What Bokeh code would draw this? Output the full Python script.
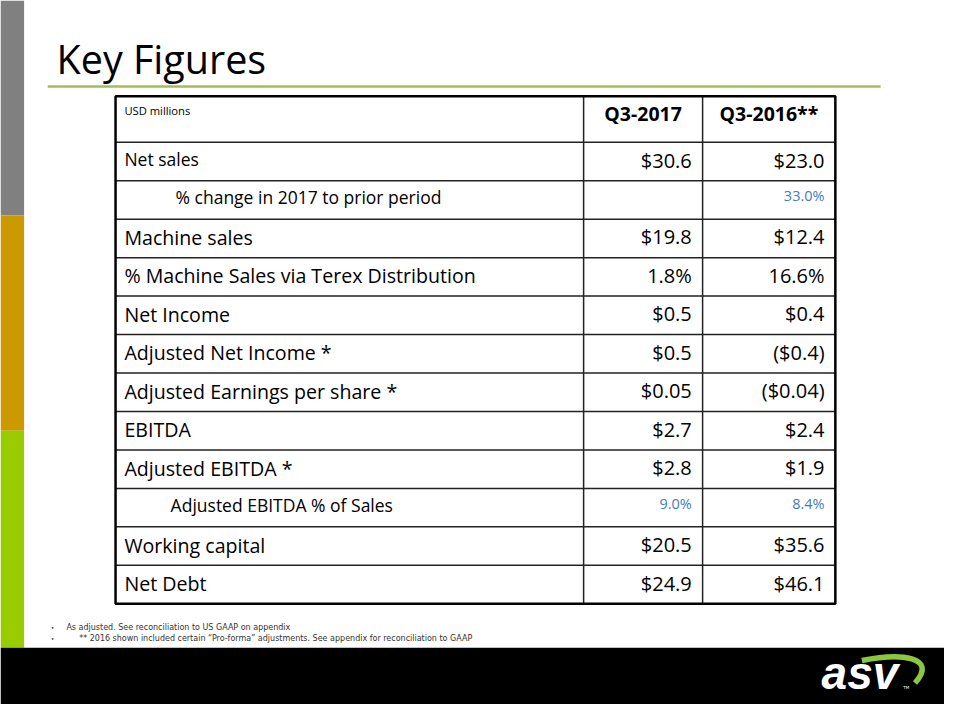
from bokeh.plotting import figure
from bokeh.models import Range1d
from bokeh.core.properties import value
from bokeh.embed import file_html
from bokeh.resources import INLINE

# ---------------- data ----------------
title = "Key Figures"
unit_label = "USD millions"
col_headers = ["Q3-2017", "Q3-2016**"]
row_labels = [
    "Net sales",
    "% change in 2017 to prior period",
    "Machine sales",
    "% Machine Sales via Terex Distribution",
    "Net Income",
    "Adjusted Net Income  *",
    "Adjusted Earnings per share *",
    "EBITDA",
    "Adjusted EBITDA *",
    "Adjusted EBITDA % of Sales",
    "Working capital",
    "Net Debt",
]
q3_2017 = ["$30.6", "", "$19.8", "1.8%", "$0.5", "$0.5", "$0.05", "$2.7", "$2.8", "9.0%", "$20.5", "$24.9"]
q3_2016 = ["$23.0", "33.0%", "$12.4", "16.6%", "$0.4", "($0.4)", "($0.04)", "$2.4", "$1.9", "8.4%", "$35.6", "$46.1"]
row_kind = ["small", "sub", "main", "main", "main", "main", "main", "main", "main", "sub", "main", "main"]
footnotes = [
    "As adjusted. See reconciliation to US GAAP on appendix",
    "** 2016 shown included certain \u201cPro-forma\u201d adjustments. See appendix for reconciliation to GAAP",
]
logo_text = "asv"

# ---------------- layout ----------------
W, H = 944, 704
FONT = "Open Sans"
p = figure(width=W, height=H, x_range=Range1d(0, 960), y_range=Range1d(720, 0),
           output_backend="svg", toolbar_location=None, min_border=0)
p.axis.visible = False
p.grid.visible = False
p.outline_line_color = None
p.background_fill_color = "white"
p.border_fill_color = "white"

# side colour bars and bottom band
p.quad(left=[0, 0, 0], right=[24, 24, 24], top=[0, 220, 440], bottom=[220, 440, 662],
       fill_color=["#808080", "#CC9900", "#99CC00"], line_color=None)
p.quad(left=[0], right=[960], top=[662], bottom=[720], fill_color="black", line_color=None)

# title and rule
p.text(x=[57], y=[60], text=[title], text_font=value(FONT), text_font_size="39.5px",
       text_baseline="middle", text_color="black")
p.segment(x0=[48], y0=[88], x1=[895], y1=[88], line_color="#A4BE50", line_width=2.5)

# table geometry
t_left, t_right = 117, 849
c1, c2 = 593, 714
t_top, head_h = 98, 47
n = len(row_labels)
t_bottom = 617
row_h = (t_bottom - t_top - head_h) / n
row_tops = [t_top + head_h + i * row_h for i in range(n)]

# grid lines
hy = row_tops
p.segment(x0=[t_left] * n, y0=hy, x1=[t_right] * n, y1=hy, line_color="#222222", line_width=1.5)
p.segment(x0=[c1, c2], y0=[t_top, t_top], x1=[c1, c2], y1=[t_bottom, t_bottom],
          line_color="#222222", line_width=1.5)
p.quad(left=[t_left], right=[t_right], top=[t_top], bottom=[t_bottom],
       fill_color=None, line_color="black", line_width=2.5)

# header
p.text(x=[126], y=[112], text=[unit_label], text_font=value(FONT), text_font_size="11.2px",
       text_baseline="middle", text_color="black")
p.text(x=[(c1 + c2) / 2, (c2 + t_right) / 2], y=[116, 116], text=col_headers,
       text_font=value(FONT), text_font_size="19.5px", text_font_style="bold",
       text_align="center", text_baseline="middle", text_color="black")

# row labels
main_idx = [i for i, k in enumerate(row_kind) if k == "main"]
small_idx = [i for i, k in enumerate(row_kind) if k == "small"]
sub_idx = [i for i, k in enumerate(row_kind) if k == "sub"]
sub_x = {1: 178, 9: 173}

p.text(x=[126] * len(main_idx), y=[row_tops[i] + row_h / 2 - 1 for i in main_idx],
       text=[row_labels[i] for i in main_idx], text_font=value(FONT), text_font_size="19.6px",
       text_baseline="middle", text_color="black")
p.text(x=[126] * len(small_idx), y=[row_tops[i] + row_h / 2 - 3 for i in small_idx],
       text=[row_labels[i] for i in small_idx], text_font=value(FONT), text_font_size="17.5px",
       text_baseline="middle", text_color="black")
p.text(x=[sub_x[i] for i in sub_idx], y=[row_tops[i] + row_h / 2 - 3 for i in sub_idx],
       text=[row_labels[i] for i in sub_idx], text_font=value(FONT), text_font_size="17.5px",
       text_baseline="middle", text_color="black")

# values
val_idx = [i for i, k in enumerate(row_kind) if k != "sub"]
for col_vals, xr in ((q3_2017, c2 - 11), (q3_2016, t_right - 11)):
    p.text(x=[xr] * len(val_idx), y=[row_tops[i] + row_h / 2 - 1.5 for i in val_idx],
           text=[col_vals[i] for i in val_idx], text_font=value(FONT), text_font_size="20px",
           text_align="right", text_baseline="middle", text_color="black")
    p.text(x=[xr] * len(sub_idx), y=[row_tops[i] + 15 for i in sub_idx],
           text=[col_vals[i] for i in sub_idx], text_font=value(FONT), text_font_size="14.5px",
           text_align="right", text_baseline="middle", text_color="#3F7DBB")

# footnotes
p.text(x=[51, 51], y=[641, 652], text=["\u2022", "\u2022"], text_font=value("DejaVu Sans"),
       text_font_size="6px", text_baseline="middle", text_color="#333333")
p.text(x=[67, 80], y=[641, 652], text=footnotes, text_font=value("DejaVu Sans"),
       text_font_size="8px", text_baseline="middle", text_color="#333333")

# logo (swoosh drawn first, letters on top)
p.bezier(x0=[876], y0=[675], x1=[930], y1=[698], cx0=[915], cy0=[667],
         cx1=[954], cy1=[671], line_color="#8DC63F", line_width=5.5)
p.text(x=[835], y=[688], text=[logo_text], text_font=value("Liberation Sans"),
       text_font_size="46px", text_font_style="bold italic", text_baseline="middle",
       text_color="white")
p.text(x=[918], y=[703], text=["TM"], text_font=value("DejaVu Sans"), text_font_size="4px",
       text_baseline="middle", text_color="white")

open("out.html", "w").write(file_html(p, INLINE))
